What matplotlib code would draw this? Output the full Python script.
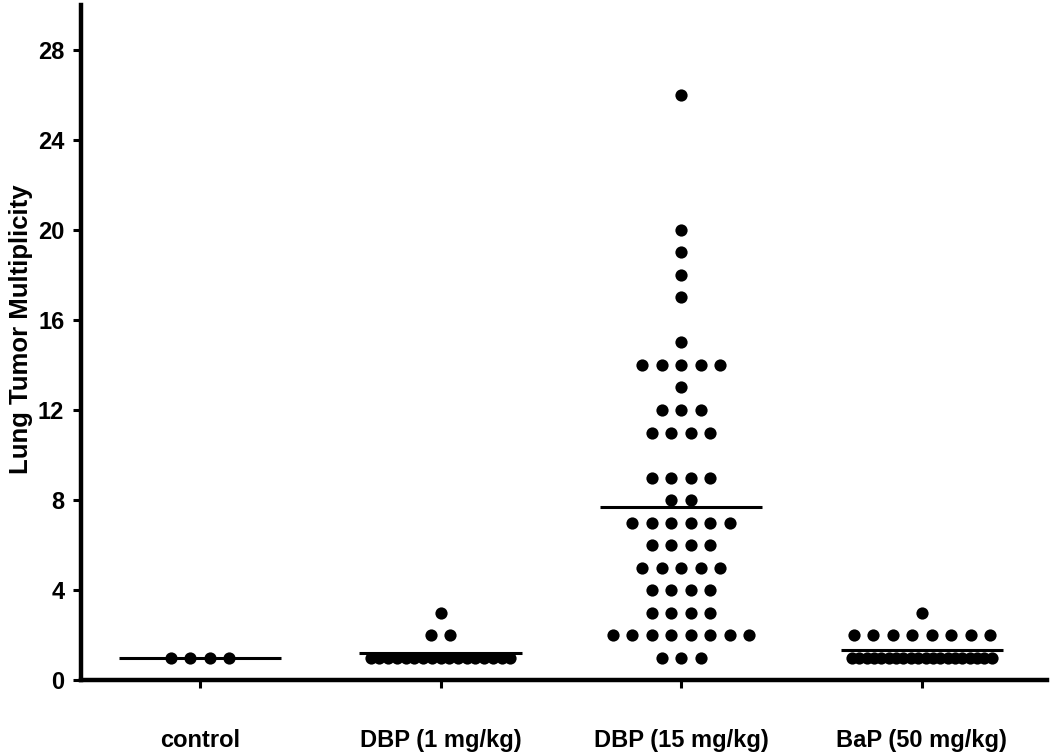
import numpy as np
import matplotlib
matplotlib.use("Agg")
import matplotlib.pyplot as plt
from collections import Counter

plt.rcParams['font.family'] = ['Liberation Sans', 'DejaVu Sans']

categories = ["control", "DBP (1 mg/kg)", "DBP (15 mg/kg)", "BaP (50 mg/kg)"]

control = [1, 1, 1, 1]
dbp_1 = [1, 1, 1, 1, 1, 1, 1, 1, 1, 1, 1, 1, 1, 1, 1, 1, 1, 2, 2, 3]
dbp_15 = [26, 20, 19, 18, 17, 15,
          14, 14, 14, 14, 14, 13, 12, 12, 12,
          11, 11, 11, 11, 9, 9, 9, 9, 8, 8,
          7, 7, 7, 7, 7, 7, 6, 6, 6, 6,
          5, 5, 5, 5, 5, 4, 4, 4, 4, 3, 3, 3, 3,
          2, 2, 2, 2, 2, 2, 2, 2, 1, 1, 1]
bap_50 = [1, 1, 1, 1, 1, 1, 1, 1, 1, 1, 1, 1, 1, 1, 1, 1, 1, 1, 1, 1,
          2, 2, 2, 2, 2, 2, 2, 2, 3]
group_means = [1.0, 1.2, 7.7, 1.35]

y_ticks = [0, 4, 8, 12, 16, 20, 24, 28]

groups = [control, dbp_1, dbp_15, bap_50]

fig = plt.figure(figsize=(10.5, 7.56), dpi=100)
ax = fig.add_axes([81 / 1050, 1 - 680 / 756, (1047 - 81) / 1050, 675 / 756])

dot_step = 0.081
max_span = 0.58
for gi, vals in enumerate(groups):
    counts = Counter(vals)
    xs, ys = [], []
    for v, n in counts.items():
        step = dot_step if n < 2 else min(dot_step, max_span / (n - 1))
        offs = (np.arange(n) - (n - 1) / 2) * step
        xs.extend(gi + offs)
        ys.extend([v] * n)
    ax.plot(xs, ys, 'o', color='black', markersize=8.8, markeredgewidth=0, zorder=3)
    ax.plot([gi - 0.337, gi + 0.337], [group_means[gi]] * 2, color='black', lw=2.2, zorder=4,
            solid_capstyle='butt')

ax.set_xlim(-0.494, 3.52)
ax.set_ylim(0, 30)
ax.set_xticks(range(len(categories)))
ax.set_xticklabels(categories, fontsize=17, fontweight='bold')
ax.set_yticks(y_ticks)
ax.set_yticklabels([str(t) for t in y_ticks], fontsize=17, fontweight='bold')
ax.tick_params(axis='x', length=6, width=2.2, pad=29, direction='out')
ax.tick_params(axis='y', length=6, width=2.2, pad=6, direction='out')
for s in ['top', 'right']:
    ax.spines[s].set_visible(False)
for s in ['left', 'bottom']:
    ax.spines[s].set_linewidth(3.2)
ax.set_ylabel("Lung Tumor Multiplicity", fontsize=18.5, fontweight='bold')
ax.yaxis.set_label_coords(-0.05, 0.52)

fig.savefig("out.png", dpi=100)
